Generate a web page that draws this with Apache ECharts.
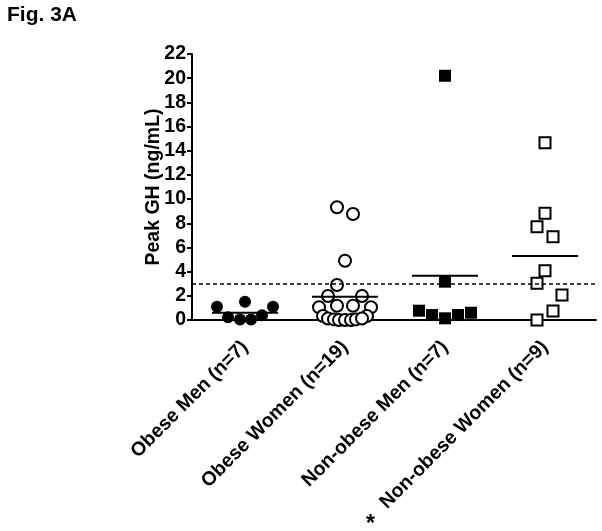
<!DOCTYPE html>
<html>
<head>
<meta charset="utf-8">
<script src="https://cdn.jsdelivr.net/npm/echarts@6/dist/echarts.min.js"></script>
<style>
html,body{margin:0;padding:0;background:#fff;}
#chart{width:602px;height:531px;}
</style>
</head>
<body>
<div id="chart"></div>
<script>
// ---- data ----
const categories = ['Obese Men (n=7)', 'Obese Women (n=19)', 'Non-obese Men (n=7)', 'Non-obese Women (n=9)'];
const yTicks = [0, 2, 4, 6, 8, 10, 12, 14, 16, 18, 20, 22];
const cutoff = 3;

const obeseMenValues = [1.1, 1.5, 1.1, 0.22, 0.05, 0.05, 0.4];
const obeseMenJitter = [-0.28, 0, 0.28, -0.17, -0.05, 0.06, 0.17];

const obeseWomenValues = [9.32, 8.77, 4.9, 2.9, 1.98, 1.98, 1.05, 1.18, 1.18, 1.05, 0.33, 0.33,
  0.12, 0.05, 0.0, 0.0, 0.0, 0.05, 0.12];
const obeseWomenJitter = [-0.08, 0.08, 0, -0.08, -0.17, 0.17, -0.26, -0.08, 0.08, 0.26, -0.22, 0.22,
  -0.17, -0.11, -0.06, 0, 0.06, 0.11, 0.17];

const nonObeseMenValues = [20.2, 3.17, 0.77, 0.41, 0.14, 0.41, 0.6];
const nonObeseMenJitter = [0, 0, -0.26, -0.13, 0, 0.13, 0.26];

const nonObeseWomenValues = [14.67, 8.82, 7.72, 6.89, 4.08, 3.03, 2.07, 0.74, 0.0];
const nonObeseWomenJitter = [0, 0, -0.08, 0.08, 0, -0.08, 0.17, 0.08, -0.08];

const groupMeans = [0.6, 1.93, 3.66, 5.29];

// ---- chart ----
const FONT = '"Liberation Sans", Arial, sans-serif';
const groups = [
  {values: obeseMenValues, jitter: obeseMenJitter, symbol: 'circle', filled: true, size: 12},
  {values: obeseWomenValues, jitter: obeseWomenJitter, symbol: 'circle', filled: false, size: 12},
  {values: nonObeseMenValues, jitter: nonObeseMenJitter, symbol: 'rect', filled: true, size: 12},
  {values: nonObeseWomenValues, jitter: nonObeseWomenJitter, symbol: 'rect', filled: false, size: 11}
];

const series = [];
groups.forEach((g, i) => {
  series.push({
    type: 'scatter',
    xAxisIndex: 0, yAxisIndex: 0,
    symbol: g.symbol,
    symbolSize: g.size,
    itemStyle: g.filled ? {color: '#000', opacity: 1} : {color: '#fff', borderColor: '#000', borderWidth: 2, opacity: 1},
    data: g.values.map((v, k) => [i + 1 + g.jitter[k], v]),
    z: 3,
    silent: true
  });
  series.push({
    type: 'line',
    xAxisIndex: 0, yAxisIndex: 0,
    symbol: 'none',
    lineStyle: {color: '#000', width: 2},
    data: [[i + 1 - 0.33, groupMeans[i]], [i + 1 + 0.33, groupMeans[i]]],
    z: 4,
    silent: true
  });
});
series.push({
  type: 'line',
  xAxisIndex: 0, yAxisIndex: 0,
  data: [],
  markLine: {
    silent: true,
    symbol: 'none',
    label: {show: false},
    lineStyle: {color: '#000', type: [4, 3], width: 1.5},
    data: [{yAxis: cutoff}]
  }
});
series.push({type: 'scatter', xAxisIndex: 1, yAxisIndex: 1, data: []});

const chart = echarts.init(document.getElementById('chart'), null, {renderer: 'canvas'});
chart.setOption({
  animation: false,
  backgroundColor: '#fff',
  title: {
    text: 'Fig. 3A', left: 2, top: 0,
    textStyle: {fontFamily: FONT, fontWeight: 'bold', fontSize: 21, color: '#000'}
  },
  graphic: [{
    type: 'text', left: 366, top: 513,
    style: {text: '*', fontFamily: FONT, fontWeight: 'bold', fontSize: 23, fill: '#000'}
  }],
  grid: [
    {left: 192, top: 54, width: 404, height: 266},
    {left: 195, top: 54, width: 400, height: 266}
  ],
  xAxis: [
    {
      type: 'value', gridIndex: 0, min: 0.47, max: 4.51,
      axisLine: {show: true, onZero: false, lineStyle: {color: '#000', width: 2}},
      axisTick: {show: false}, axisLabel: {show: false}, splitLine: {show: false}
    },
    {
      type: 'category', gridIndex: 1, data: categories,
      axisLine: {show: false}, axisTick: {show: false}, splitLine: {show: false},
      axisLabel: {
        rotate: 45, margin: 24, interval: 0,
        fontFamily: FONT, fontWeight: 'bold', fontSize: 19.5, color: '#000'
      }
    }
  ],
  yAxis: [
    {
      type: 'value', gridIndex: 0, min: 0, max: 22, interval: 2,
      name: 'Peak GH (ng/mL)', nameLocation: 'middle', nameGap: 28,
      nameMoveOverlap: false,
      nameTextStyle: {fontFamily: FONT, fontWeight: 'bold', fontSize: 19.5, color: '#000'},
      axisLine: {show: true, lineStyle: {color: '#000', width: 2}},
      axisTick: {show: true, length: 5, lineStyle: {color: '#000', width: 2}},
      axisLabel: {
        margin: 6, fontFamily: FONT, fontWeight: 'bold', fontSize: 19.5, color: '#000',
        formatter: v => (yTicks.indexOf(v) >= 0 ? String(v) : '')
      },
      splitLine: {show: false}
    },
    {
      type: 'value', gridIndex: 1, min: 0, max: 22, show: false
    }
  ],
  series: series
});
</script>
</body>
</html>
